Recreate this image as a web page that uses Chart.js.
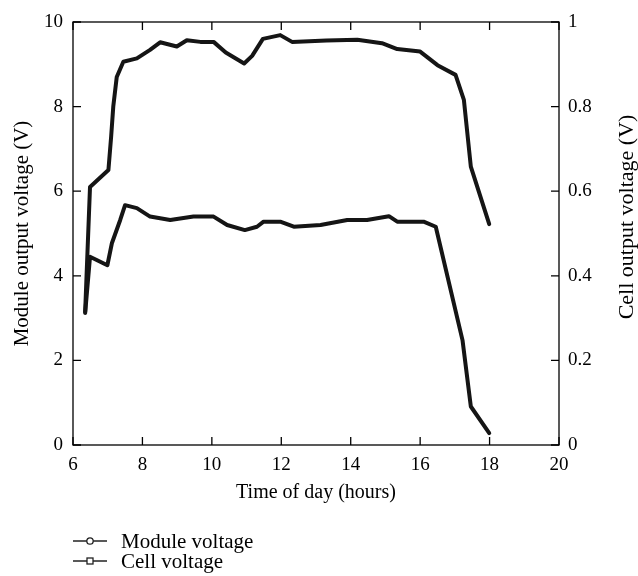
<!DOCTYPE html>
<html>
<head>
<meta charset="utf-8">
<script src="https://cdn.jsdelivr.net/npm/chart.js@4"></script>
<style>
  body { margin: 0; background: #fff; }
  #wrap { position: relative; width: 638px; height: 576px; }
  .key { position: absolute; left: 73px; font: 21px 'Liberation Serif', 'Times New Roman', serif; color: #000; display: flex; align-items: center; line-height: 20px; }
  .key svg { margin-right: 14px; }
</style>
</head>
<body>
<div id="wrap">
  <canvas id="chart" width="638" height="576"></canvas>
  <div class="key" style="top:531px"><svg width="34" height="12"><line x1="0" y1="6" x2="34" y2="6" stroke="#222" stroke-width="1.6"/><circle cx="17" cy="6" r="3.2" fill="#fff" stroke="#222" stroke-width="1.3"/></svg>Module voltage</div>
  <div class="key" style="top:551px"><svg width="34" height="12"><line x1="0" y1="6" x2="34" y2="6" stroke="#222" stroke-width="1.6"/><rect x="14" y="3" width="6" height="6" fill="#fff" stroke="#222" stroke-width="1.3"/></svg>Cell voltage</div>
</div>
<script>
'use strict';

// module voltage (left axis, V)
const moduleHours = [6.35, 6.49, 7.02, 7.1, 7.16, 7.26, 7.45, 7.84, 8.22, 8.51, 8.99, 9.28, 9.67, 10.05, 10.4, 10.93, 11.16, 11.47, 11.97, 12.31, 13.3, 14.19, 14.9, 15.34, 16.0, 16.5, 17.02, 17.26, 17.46, 17.99];
const moduleVolts = [3.15, 6.1, 6.5, 7.3, 8.0, 8.7, 9.06, 9.14, 9.34, 9.52, 9.42, 9.57, 9.53, 9.53, 9.28, 9.02, 9.2, 9.6, 9.69, 9.53, 9.56, 9.58, 9.5, 9.36, 9.3, 8.98, 8.75, 8.16, 6.58, 5.22];

// cell voltage (right axis, V)
const cellHours = [6.35, 6.49, 6.99, 7.12, 7.36, 7.5, 7.84, 8.22, 8.8, 9.47, 10.05, 10.44, 10.95, 11.3, 11.49, 11.97, 12.36, 13.13, 13.9, 14.47, 15.1, 15.34, 16.1, 16.45, 17.22, 17.46, 17.99];
const cellVolts = [0.312, 0.445, 0.425, 0.477, 0.532, 0.567, 0.56, 0.54, 0.532, 0.54, 0.54, 0.52, 0.508, 0.516, 0.528, 0.528, 0.516, 0.52, 0.532, 0.532, 0.541, 0.528, 0.528, 0.516, 0.248, 0.091, 0.028];

const xTicks = [6, 8, 10, 12, 14, 16, 18, 20];
const yTicks = [0, 2, 4, 6, 8, 10];
const y1Ticks = [0, 0.2, 0.4, 0.6, 0.8, 1];
const y1Labels = ['0', '0.2', '0.4', '0.6', '0.8', '1'];

const serif = "'Liberation Serif', 'Times New Roman', serif";

function toPoints(xs, ys) {
    return xs.map((x, i) => ({ x: x, y: ys[i] }));
}

// box round the plot, ticks pointing inward, right title read bottom to top
const framePlugin = {
    id: 'frame',
    afterDraw(chart) {
        const ctx = chart.ctx;
        const a = chart.chartArea;
        const sx = chart.scales.x, sy = chart.scales.y, sy1 = chart.scales.y1;
        const len = 8;
        ctx.save();
        ctx.strokeStyle = '#000';
        ctx.lineWidth = 1.3;
        ctx.strokeRect(a.left, a.top, a.right - a.left, a.bottom - a.top);
        ctx.beginPath();
        xTicks.forEach(v => {
            const px = sx.getPixelForValue(v);
            ctx.moveTo(px, a.bottom); ctx.lineTo(px, a.bottom - len);
            ctx.moveTo(px, a.top); ctx.lineTo(px, a.top + len);
        });
        yTicks.forEach(v => {
            const py = sy.getPixelForValue(v);
            ctx.moveTo(a.left, py); ctx.lineTo(a.left + len, py);
        });
        y1Ticks.forEach(v => {
            const py = sy1.getPixelForValue(v);
            ctx.moveTo(a.right, py); ctx.lineTo(a.right - len, py);
        });
        ctx.stroke();

        ctx.translate(627, 217);
        ctx.rotate(-Math.PI / 2);
        ctx.fillStyle = '#000';
        ctx.font = '22px ' + serif;
        ctx.textAlign = 'center';
        ctx.textBaseline = 'middle';
        ctx.fillText('Cell output voltage (V)', 0, 0);
        ctx.restore();
    }
};

const lineStyle = {
    borderColor: '#151515',
    borderWidth: 4,
    pointRadius: 0,
    tension: 0,
    borderJoinStyle: 'round',
    borderCapStyle: 'round'
};

new Chart(document.getElementById('chart').getContext('2d'), {
    type: 'line',
    data: {
        datasets: [
            Object.assign({ label: 'Module voltage', data: toPoints(moduleHours, moduleVolts), yAxisID: 'y' }, lineStyle),
            Object.assign({ label: 'Cell voltage', data: toPoints(cellHours, cellVolts), yAxisID: 'y1' }, lineStyle)
        ]
    },
    options: {
        responsive: false,
        animation: false,
        devicePixelRatio: 1,
        layout: { padding: { top: 22, bottom: 66, left: 0, right: 0 } },
        plugins: { legend: { display: false }, tooltip: { enabled: false } },
        scales: {
            x: {
                type: 'linear',
                min: 6, max: 20,
                afterBuildTicks: s => { s.ticks = xTicks.map(v => ({ value: v })); },
                afterFit: s => { s.height = 65; },
                grid: { display: false, drawTicks: false },
                border: { display: false },
                ticks: { color: '#000', padding: 9, maxRotation: 0, font: { family: serif, size: 19 } },
                title: { display: true, text: 'Time of day (hours)', color: '#000', padding: { top: 0, bottom: 5 }, font: { family: serif, size: 20 } }
            },
            y: {
                position: 'left',
                min: 0, max: 10,
                afterBuildTicks: s => { s.ticks = yTicks.map(v => ({ value: v })); },
                afterFit: s => { s.width = 73; },
                grid: { display: false, drawTicks: false },
                border: { display: false },
                ticks: { color: '#000', padding: 10, font: { family: serif, size: 19 } },
                title: { display: true, text: 'Module output voltage (V)', color: '#000', padding: { top: 10, bottom: 0 }, font: { family: serif, size: 21 } }
            },
            y1: {
                position: 'right',
                min: 0, max: 1,
                afterBuildTicks: s => { s.ticks = y1Ticks.map(v => ({ value: v })); },
                afterFit: s => { s.width = 79; },
                grid: { display: false, drawTicks: false },
                border: { display: false },
                ticks: { color: '#000', padding: 9, font: { family: serif, size: 19 }, callback: (v, i) => y1Labels[i] }
            }
        }
    },
    plugins: [framePlugin]
});
</script>
</body>
</html>
